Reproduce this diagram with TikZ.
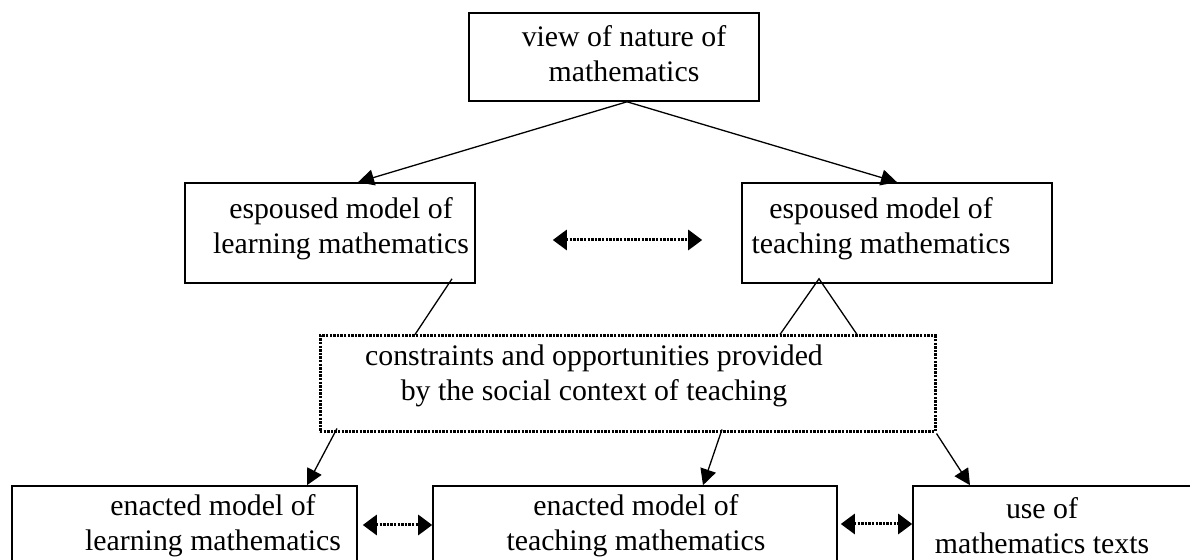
\documentclass[tikz,border=0pt]{standalone}
\usepackage{fontspec}
\setmainfont{Liberation Serif}
\usetikzlibrary{arrows.meta}

\begin{document}
\begin{tikzpicture}[x=0.5pt, y=-0.5pt,
		box/.style={draw, line width=0.8pt, inner sep=0pt},
		dotbox/.style={draw, line width=1.5pt, dash pattern=on 1.2pt off 0.6pt, inner sep=0pt},
		txt/.style={align=center, inner sep=0pt, font=\fontsize{14.9pt}{17.5pt}\selectfont},
		link/.style={line width=0.65pt},
		arr/.style={link, -{Triangle[length=8pt, width=8pt]}},
		dualarr/.style={line width=1.5pt, dash pattern=on 1.2pt off 0.6pt, {Triangle[length=7pt, width=10pt]}-{Triangle[length=7pt, width=10pt]}}]
			\path[use as bounding box, clip] (0,0) rectangle (1190,560);
			\node[box, minimum width=145pt, minimum height=44pt] (view) at (614,57) {};
			\node[txt] (viewtxt) at (624,54) {view of nature of\\mathematics};
			\node[box, minimum width=145pt, minimum height=50pt] (lesp) at (330,233) {};
			\node[txt] (lesptxt) at (341,229) {espoused model of\\learning mathematics};
			\node[box, minimum width=155pt, minimum height=50pt] (resp) at (897,233) {};
			\node[txt] (resptxt) at (881,229) {espoused model of\\teaching mathematics};
			\node[dotbox, minimum width=307.5pt, minimum height=48pt] (ctx) at (627.5,384) {};
			\node[txt] (ctxtxt) at (594,376) {constraints and opportunities provided\\by the social context of teaching};
			\node[box, minimum width=172.5pt, minimum height=44.5pt] (enlearn) at (184.5,530.5) {};
			\node[txt] (enlearntxt) at (213,526) {enacted model of\\learning mathematics};
			\node[box, minimum width=202pt, minimum height=44.5pt] (enteach) at (635,530.5) {};
			\node[txt] (enteachtxt) at (636,526) {enacted model of\\teaching mathematics};
			\node[box, minimum width=143.5pt, minimum height=44.5pt] (usetexts) at (1056.5,530.5) {};
			\node[txt] (usetextstxt) at (1042,526) {use of\\mathematics texts};
			\draw[arr] ([xshift=6.5pt]view.south) -- ([xshift=14pt]lesp.north);
			\draw[arr] ([xshift=6.5pt]view.south) -- (resp.north);
			\draw[dualarr] ([xshift=38.5pt, yshift=-3.5pt]lesp.east) -- ([xshift=-19.5pt, yshift=-3.5pt]resp.west);
			\draw[link] ([xshift=61pt, yshift=2.5pt]lesp.south) -- ([xshift=-106.25pt]ctx.north);
			\draw[link] ([xshift=76.25pt]ctx.north) -- ([xshift=-39pt, yshift=2.5pt]resp.south) -- ([xshift=114.75pt]ctx.north);
			\draw[arr] ([xshift=-145.25pt, yshift=2.5pt]ctx.south) -- ([xshift=61.25pt]enlearn.north);
			\draw[arr] ([xshift=47.25pt, yshift=2pt]ctx.south) -- ([xshift=34pt]enteach.north);
			\draw[arr] (ctx.south east) -- ([xshift=-43.25pt]usetexts.north);
			\draw[dualarr] ([xshift=2.5pt, yshift=2.75pt]enlearn.east) -- ([yshift=2.75pt]enteach.west);
			\draw[dualarr] ([xshift=1.5pt, yshift=3.25pt]enteach.east) -- ([yshift=3.25pt]usetexts.west);
	\end{tikzpicture}
\end{document}
